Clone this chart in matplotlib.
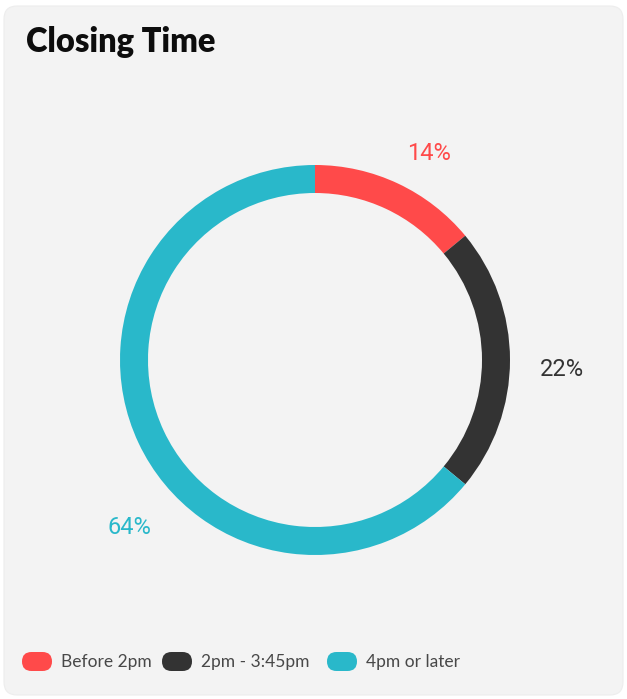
import matplotlib
matplotlib.use('Agg')
import matplotlib.pyplot as plt
from matplotlib.patches import FancyBboxPatch

W, H = 627, 699

categories = ['Before 2pm', '2pm - 3:45pm', '4pm or later']
shares = [14, 22, 64]
colors = ['#ff4a4a', '#333333', '#29b8ca']

# where the percentage labels sit (pixels from top-left)
label_xy = [(429, 154), (562, 370), (129, 527)]

fig = plt.figure(figsize=(W / 100, H / 100), dpi=100)
fig.patch.set_facecolor('white')

# canvas in pixel units for the card, title and legend
bg = fig.add_axes([0, 0, 1, 1])
bg.set_xlim(0, W)
bg.set_ylim(H, 0)
bg.axis('off')

card = FancyBboxPatch((4, 6), W - 8, H - 10,
                      boxstyle='round,pad=0,rounding_size=13',
                      facecolor='#f3f3f3', edgecolor='#ededed', linewidth=0.8)
bg.add_patch(card)

bg.text(26, 42, 'Closing Time', fontsize=23.5, fontweight='heavy',
        family='Lato', color='#0d0d0d', va='center', ha='left')

# donut
cx, cy, r = 315, 360, 195
ax = fig.add_axes([(cx - r) / W, (H - cy - r) / H, 2 * r / W, 2 * r / H])
ax.pie(shares, colors=colors, startangle=90, counterclock=False,
       radius=1, wedgeprops=dict(width=28 / r, linewidth=0))
ax.set_xlim(-1, 1)
ax.set_ylim(-1, 1)
ax.axis('off')

for val, col, (lx, ly) in zip(shares, colors, label_xy):
    bg.text(lx, ly, f'{val}%', fontsize=17, family='Roboto',
            color=col, ha='center', va='center')

# legend pills
legend_x = [22, 162, 327]
for name, col, x0 in zip(categories, colors, legend_x):
    pill = FancyBboxPatch((x0, 652), 30, 19,
                          boxstyle='round,pad=0,rounding_size=9.5',
                          facecolor=col, edgecolor='none')
    bg.add_patch(pill)
    bg.text(x0 + 39, 662, name, fontsize=12.5, family='Lato',
            color='#484848', ha='left', va='center')

fig.savefig('out.png', dpi=100, facecolor=fig.get_facecolor())
